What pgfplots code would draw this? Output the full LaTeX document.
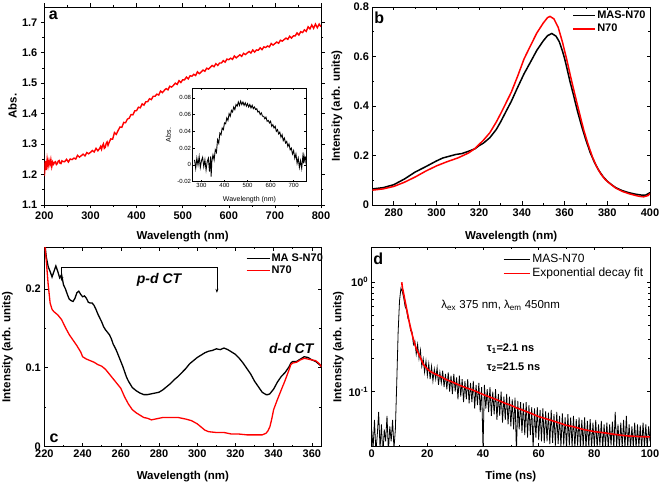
\documentclass[border=0pt]{standalone}
\usepackage{fontspec}
\setmainfont{Liberation Sans}
\usepackage{pgfplots}
\pgfplotsset{compat=1.18}
\usetikzlibrary{arrows.meta}
\definecolor{myred}{RGB}{255,0,0}
\pgfplotsset{
  panel/.style={
    scale only axis,
    axis line style={black, line width=0.8pt},
    every tick/.style={black, line width=0.6pt},
    major tick length=3.5pt,
    minor tick length=2pt,
    tick align=inside,
    tick label style={font=\fontsize{11}{12}\selectfont\bfseries},
    label style={font=\fontsize{11.5}{13}\selectfont\bfseries},
    /pgf/number format/assume math mode=true,
    legend cell align=left,
  },
}
\begin{document}
\begin{tikzpicture}
\useasboundingbox (0pt,0pt) rectangle (661pt,485pt);

% ---------------- panel a ----------------
\begin{axis}[panel,
  at={(44.4pt,280pt)}, anchor=south west, width=276.6pt, height=198pt,
  xmin=200, xmax=800, ymin=1.1, ymax=1.75,
  xtick={200,300,400,500,600,700,800}, ytick={1.1,1.2,1.3,1.4,1.5,1.6,1.7},
  minor x tick num=1, minor y tick num=1,
  tick align=outside,
  yticklabel style={/pgf/number format/fixed,/pgf/number format/precision=1,/pgf/number format/fixed zerofill},
  xlabel={Wavelength (nm)}, ylabel={Abs.},
  xlabel style={at={(axis description cs:0.5,-0.157)}, anchor=center},
  ylabel style={at={(axis description cs:-0.115,0.5)}, anchor=center},
]
\addplot[myred, line width=1.4pt] coordinates {
(200,1.195)(202,1.245)(204,1.215)(206,1.250)(208,1.228)(210,1.246)(212,1.232)(214,1.249)(216,1.226)(218,1.241)(220,1.234)(222,1.240)(224,1.242)(226,1.233)(228,1.236)(230,1.244)(232,1.246)(234,1.237)(236,1.236)(238,1.245)(240,1.243)(244,1.242)(248,1.250)(252,1.241)(256,1.251)(260,1.249)(264,1.254)(268,1.251)(272,1.263)(276,1.257)(280,1.262)(284,1.267)(288,1.261)(292,1.272)(296,1.268)(300,1.273)(304,1.279)(308,1.274)(312,1.286)(316,1.278)(320,1.286)(322,1.292)(324,1.283)(326,1.295)(328,1.301)(330,1.286)(332,1.289)(334,1.302)(336,1.307)(338,1.296)(340,1.304)(344,1.317)(348,1.316)(352,1.338)(356,1.332)(360,1.345)(364,1.356)(368,1.355)(372,1.371)(376,1.370)(380,1.382)(384,1.385)(388,1.397)(392,1.396)(396,1.409)(400,1.410)(404,1.421)(408,1.419)(412,1.432)(416,1.428)(420,1.439)(424,1.439)(428,1.449)(432,1.446)(436,1.457)(440,1.457)(444,1.464)(448,1.461)(452,1.474)(456,1.469)(460,1.476)(464,1.482)(468,1.478)(472,1.490)(476,1.487)(480,1.493)(484,1.500)(488,1.496)(492,1.508)(496,1.502)(500,1.511)(504,1.511)(508,1.520)(512,1.514)(516,1.524)(520,1.523)(524,1.529)(528,1.525)(532,1.537)(536,1.531)(540,1.537)(544,1.543)(548,1.539)(552,1.549)(556,1.546)(560,1.552)(564,1.558)(568,1.554)(572,1.564)(576,1.558)(580,1.566)(584,1.566)(588,1.574)(592,1.569)(596,1.579)(600,1.577)(604,1.582)(608,1.578)(612,1.589)(616,1.583)(620,1.588)(624,1.593)(628,1.588)(632,1.598)(636,1.594)(640,1.599)(644,1.604)(648,1.599)(652,1.609)(656,1.602)(660,1.609)(664,1.608)(668,1.616)(672,1.610)(676,1.619)(680,1.617)(684,1.622)(688,1.619)(692,1.630)(696,1.625)(700,1.630)(704,1.635)(708,1.631)(712,1.641)(716,1.638)(720,1.643)(724,1.648)(728,1.644)(732,1.654)(736,1.648)(740,1.655)(744,1.655)(748,1.665)(752,1.658)(756,1.669)(760,1.666)(764,1.675)(768,1.670)(772,1.685)(776,1.678)(780,1.691)(784,1.680)(788,1.694)(792,1.682)(796,1.694)(800,1.685)
};
\end{axis}

% ---------------- inset ----------------
\begin{axis}[scale only axis,
  at={(192.7pt,303.3pt)}, anchor=south west, width=113.6pt, height=93.4pt,
  axis background/.style={fill=white},
  axis line style={black, line width=0.5pt},
  every tick/.style={black, line width=0.4pt},
  major tick length=2pt, minor tick length=1pt, tick align=inside,
  xmin=262, xmax=755, ymin=-0.02, ymax=0.0913,
  xtick={300,400,500,600,700}, ytick={-0.02,0,0.02,0.04,0.06,0.08},
  scaled y ticks=false,
  /pgf/number format/assume math mode=true,
  yticklabel style={/pgf/number format/fixed,/pgf/number format/precision=2},
  tick label style={font=\fontsize{6}{7}\selectfont, inner sep=1.5pt},
  label style={font=\fontsize{7}{8}\selectfont},
  xlabel={Wavelength (nm)}, ylabel={Abs.},
  xlabel style={at={(axis description cs:0.5,-0.196)}, anchor=center},
  ylabel style={at={(axis description cs:-0.215,0.5)}, anchor=center},
]
\addplot[black, line width=0.9pt] coordinates {
(270,0.006)(275,-0.004)(280,0.008)(285,0.000)(290,0.010)(295,-0.003)(300,0.005)(305,0.009)(310,-0.002)(315,0.006)(320,-0.006)(325,0.004)(330,0.008)(335,-0.008)(340,0.010)(342,-0.014)(345,0.004)(350,0.012)(355,0.006)(360,0.018)(365,0.015)(370,0.030)(375,0.026)(380,0.038)(385,0.036)(390,0.044)(395,0.042)(400,0.050)(405,0.049)(410,0.056)(415,0.053)(420,0.061)(425,0.058)(430,0.065)(435,0.063)(440,0.069)(445,0.066)(450,0.072)(455,0.070)(460,0.075)(465,0.071)(470,0.076)(475,0.072)(480,0.075)(485,0.071)(490,0.074)(495,0.070)(500,0.073)(505,0.069)(510,0.072)(515,0.068)(520,0.071)(525,0.067)(530,0.069)(535,0.066)(540,0.067)(545,0.063)(550,0.064)(555,0.060)(560,0.062)(565,0.058)(570,0.058)(575,0.055)(580,0.057)(585,0.052)(590,0.053)(595,0.050)(600,0.052)(605,0.046)(610,0.048)(615,0.044)(620,0.046)(625,0.040)(630,0.042)(635,0.037)(640,0.039)(645,0.033)(650,0.036)(655,0.029)(660,0.032)(665,0.026)(670,0.028)(675,0.022)(680,0.025)(685,0.018)(690,0.020)(695,0.013)(700,0.017)(705,0.008)(710,0.013)(715,0.002)(720,0.008)(725,-0.003)(730,0.005)(735,-0.004)(740,0.010)(743,0.002)(745,0.011)(750,0.004)(752,0.010)
};
\end{axis}

% ---------------- panel b ----------------
\begin{axis}[panel,
  at={(372.4pt,280pt)}, anchor=south west, width=277.6pt, height=198pt,
  xmin=270, xmax=400, ymin=0, ymax=0.8,
  xtick={280,300,320,340,360,380,400}, ytick={0,0.2,0.4,0.6,0.8},
  minor x tick num=1, minor y tick num=1,
  yticklabel style={/pgf/number format/fixed,/pgf/number format/precision=1},
  xlabel={Wavelength (nm)}, ylabel={Intensity (arb. units)},
  xlabel style={at={(axis description cs:0.5,-0.157)}, anchor=center},
  ylabel style={at={(axis description cs:-0.1275,0.5)}, anchor=center},
  legend style={at={(axis description cs:0.72,0.99)}, anchor=north west, draw=none, fill=none,
    inner sep=0pt, outer sep=0pt, row sep=0pt,
    font=\fontsize{11}{12}\selectfont\bfseries,
    nodes={inner sep=1.5pt, text height=8pt, text depth=2.5pt}},
  legend image code/.code={\draw[#1] (0pt,0pt) -- (22pt,0pt);},
]
\addplot[black, line width=1.5pt] coordinates {
(270,0.065)(275,0.070)(280,0.082)(285,0.105)(290,0.133)(295,0.155)(300,0.178)(303,0.190)(306,0.197)(309,0.204)(312,0.208)(315,0.217)(318,0.227)(320,0.240)(322,0.250)(325,0.272)(328,0.305)(330,0.335)(333,0.385)(335,0.418)(338,0.475)(341,0.530)(344,0.577)(347,0.625)(350,0.663)(352,0.684)(354,0.693)(356,0.682)(357.5,0.660)(359,0.622)(360,0.592)(361,0.556)(362.5,0.500)(364,0.450)(366,0.380)(368,0.318)(370,0.262)(372,0.212)(374,0.172)(376,0.140)(378,0.115)(380,0.096)(382,0.082)(384,0.070)(387,0.058)(390,0.050)(393,0.044)(396,0.040)(398,0.040)(400,0.050)
};
\addlegendentry{MAS-N70}
\addplot[myred, line width=1.5pt] coordinates {
(270,0.060)(275,0.065)(280,0.075)(285,0.092)(290,0.113)(295,0.137)(300,0.158)(305,0.175)(310,0.190)(315,0.210)(318,0.228)(320,0.245)(322,0.262)(325,0.292)(328,0.335)(330,0.368)(333,0.420)(335,0.455)(338,0.520)(341,0.590)(344,0.643)(347,0.695)(350,0.735)(352,0.757)(353.2,0.762)(355,0.752)(357,0.718)(359,0.658)(361,0.588)(363,0.512)(365,0.440)(367,0.370)(369,0.302)(371,0.245)(373,0.195)(375,0.155)(377,0.125)(379,0.103)(381,0.088)(384,0.068)(387,0.055)(390,0.046)(393,0.039)(395,0.035)(397,0.033)(399,0.038)(400,0.046)
};
\addlegendentry{N70}
\end{axis}

% ---------------- panel c ----------------
\begin{axis}[panel,
  at={(44.4pt,38.3pt)}, anchor=south west, width=277pt, height=199.7pt,
  xmin=220, xmax=365, ymin=0, ymax=0.253,
  xtick={220,240,260,280,300,320,340,360}, ytick={0,0.1,0.2},
  minor x tick num=1, minor y tick num=1,
  yticklabel style={/pgf/number format/fixed,/pgf/number format/precision=1},
  xlabel={Wavelength (nm)}, ylabel={Intensity (arb. units)},
  xlabel style={at={(axis description cs:0.5,-0.147)}, anchor=center},
  ylabel style={at={(axis description cs:-0.134,0.5)}, anchor=center},
  legend style={at={(axis description cs:0.728,0.974)}, anchor=north west, draw=none, fill=none,
    inner sep=0pt, outer sep=0pt, row sep=0pt,
    font=\fontsize{11}{12}\selectfont\bfseries,
    nodes={inner sep=1.2pt, text height=8pt, text depth=1.8pt}},
  legend image code/.code={\draw[#1] (0pt,0pt) -- (23pt,0pt);},
]
\addplot[black, line width=1.3pt] coordinates {
(220,0.262)(221,0.240)(222,0.228)(223,0.222)(224,0.215)(225,0.222)(226,0.229)(227,0.222)(228,0.214)(229,0.218)(230,0.205)(231,0.200)(232,0.193)(233,0.187)(234,0.185)(235,0.184)(236,0.188)(237,0.195)(238,0.197)(239,0.193)(240,0.190)(241,0.191)(242,0.188)(243,0.183)(244,0.182)(245,0.182)(246,0.179)(247,0.174)(248,0.168)(249,0.163)(250,0.158)(251,0.152)(252,0.148)(253,0.145)(254,0.142)(255,0.137)(256,0.130)(257.5,0.123)(259,0.114)(261,0.102)(263,0.088)(264,0.083)(266,0.075)(268,0.071)(270,0.068)(272,0.066)(274,0.066)(276,0.067)(278,0.068)(280,0.069)(282,0.072)(284,0.076)(286,0.080)(288,0.085)(290,0.089)(292,0.094)(294,0.099)(296,0.105)(298,0.109)(300,0.113)(302,0.116)(304,0.119)(306,0.121)(308,0.122)(310,0.124)(312,0.123)(314,0.125)(316,0.123)(318,0.120)(320,0.117)(322,0.112)(324,0.106)(326,0.099)(328,0.092)(330,0.083)(332,0.076)(334,0.069)(336,0.066)(337,0.066)(338,0.067)(340,0.073)(342,0.082)(344,0.089)(346,0.094)(348,0.101)(349,0.106)(350,0.108)(352,0.108)(354,0.111)(356,0.114)(358,0.113)(360,0.110)(362,0.108)(364,0.104)(365,0.102)
};
\addlegendentry{MA S-N70}
\addplot[myred, line width=1.3pt] coordinates {
(220,0.262)(221,0.235)(222,0.205)(223,0.182)(224,0.174)(225,0.171)(227,0.167)(229,0.161)(231,0.151)(233,0.142)(235,0.135)(237,0.128)(239,0.120)(240,0.114)(242,0.111)(244,0.109)(246,0.107)(248,0.104)(250,0.102)(252,0.098)(254,0.092)(256,0.086)(258,0.080)(260,0.074)(262,0.063)(264,0.054)(266,0.047)(268,0.043)(270,0.040)(272,0.037)(274,0.036)(276,0.034)(278,0.035)(280,0.036)(282,0.037)(286,0.037)(290,0.037)(294,0.035)(297,0.033)(300,0.029)(302,0.025)(304,0.021)(306,0.019)(310,0.018)(314,0.018)(318,0.016)(322,0.016)(326,0.015)(330,0.015)(334,0.015)(336,0.017)(337,0.020)(338,0.025)(339,0.035)(340,0.047)(342,0.060)(344,0.072)(346,0.084)(348,0.097)(349,0.104)(350,0.106)(352,0.107)(354,0.110)(356,0.112)(358,0.111)(360,0.110)(362,0.109)(364,0.105)(365,0.101)
};
\addlegendentry{N70}
\draw[{Stealth[length=4pt,width=3pt]}-{Stealth[length=4pt,width=3pt]}, line width=0.6pt]
  (axis cs:229.1,0.2097) -- (axis cs:229.1,0.2267) -- (axis cs:310.3,0.2267) -- (axis cs:310.3,0.195);
\node[font=\fontsize{14}{16}\selectfont\bfseries\itshape] at (axis cs:280,0.211) {p-d CT};
\node[font=\fontsize{14}{16}\selectfont\bfseries\itshape] at (axis cs:349.2,0.125) {d-d CT};
\end{axis}

% ---------------- panel d ----------------
\begin{axis}[panel,
  at={(371.7pt,38.3pt)}, anchor=south west, width=278.3pt, height=199.7pt,
  xmin=0, xmax=100, ymode=log, ymin=0.0313, ymax=2.1,
  xtick={0,20,40,60,80,100}, minor x tick num=1,
  ytick={0.1,1}, yticklabels={10\textsuperscript{-1},10\textsuperscript{0}},
  xlabel={Time (ns)}, ylabel={Intensity (arb. units)},
  xlabel style={at={(axis description cs:0.5,-0.15)}, anchor=center},
  ylabel style={at={(axis description cs:-0.12,0.5)}, anchor=center},
  legend style={at={(axis description cs:0.471,0.972)}, anchor=north west, draw=none, fill=none,
    inner sep=0pt, outer sep=0pt, row sep=0pt,
    font=\fontsize{12}{13}\selectfont,
    nodes={inner sep=1.5pt, text height=8.5pt, text depth=2.5pt}},
]
\addplot[black, line width=0.8pt,
  legend image code/.code={\draw[black, line width=0.8pt] (0pt,0pt) -- (26.6pt,0pt);}] coordinates {
(0,0.045)(0.5,0.030)(1,0.055)(1.5,0.028)(2,0.040)(2.5,0.065)(3,0.030)(3.5,0.050)(4,0.025)(4.5,0.045)(5,0.035)(5.5,0.060)(6,0.028)(6.5,0.048)(7,0.035)(7.5,0.055)(8,0.030)(8.5,0.045)(9,0.120)(9.5,0.350)(10,0.680)(10.5,0.880)(11,0.820)(11.5,0.720)(12,0.600)(12.5,0.560)(13,0.470)(13.5,0.440)(14,0.360)(14.5,0.350)(15,0.270)(15.5,0.290)(16,0.220)(16.5,0.270)(17,0.200)(17.5,0.240)(18,0.170)(18.5,0.200)(19,0.150)(19.5,0.190)(20,0.140)(20.5,0.180)(21,0.130)(21.5,0.170)(22,0.125)(22.5,0.160)(23,0.130)(23.5,0.165)(24,0.115)(24.5,0.150)(25,0.120)(25.5,0.155)(26,0.110)(26.5,0.145)(27,0.105)(27.5,0.150)(28,0.100)(28.5,0.140)(29,0.095)(29.5,0.145)(30,0.100)(30.5,0.135)(31,0.085)(31.5,0.140)(32,0.090)(32.5,0.130)(33,0.080)(33.5,0.125)(34,0.085)(34.5,0.130)(35,0.078)(35.5,0.120)(36,0.080)(36.5,0.125)(37,0.070)(37.5,0.115)(38,0.075)(38.5,0.120)(39,0.065)(39.5,0.110)(40,0.030)(40.5,0.115)(41,0.070)(41.5,0.105)(42,0.065)(42.5,0.110)(43,0.060)(43.5,0.100)(44,0.062)(44.5,0.105)(45,0.055)(45.5,0.095)(46,0.060)(46.5,0.100)(47,0.052)(47.5,0.090)(48,0.055)(48.5,0.095)(49,0.050)(49.5,0.090)(50,0.048)(50.5,0.085)(51,0.045)(51.5,0.088)(52,0.028)(52.5,0.082)(53,0.045)(53.5,0.080)(54,0.042)(54.5,0.078)(55,0.040)(55.5,0.080)(56,0.038)(56.5,0.075)(57,0.040)(57.5,0.072)(58,0.030)(58.5,0.070)(59,0.038)(59.5,0.072)(60,0.036)(60.5,0.068)(61,0.035)(61.5,0.070)(62,0.034)(62.5,0.066)(63,0.035)(63.5,0.064)(64,0.033)(64.5,0.068)(65,0.034)(65.5,0.062)(66,0.032)(66.5,0.065)(67,0.033)(67.5,0.060)(68,0.031)(68.5,0.063)(69,0.032)(69.5,0.058)(70,0.030)(70.5,0.062)(71,0.032)(71.5,0.058)(72,0.031)(72.5,0.060)(73,0.030)(73.5,0.056)(74,0.032)(74.5,0.058)(75,0.030)(75.5,0.055)(76,0.031)(76.5,0.058)(77,0.030)(77.5,0.054)(78,0.031)(78.5,0.056)(79,0.030)(79.5,0.052)(80,0.031)(80.5,0.055)(81,0.030)(81.5,0.050)(82,0.032)(82.5,0.054)(83,0.030)(83.5,0.050)(84,0.031)(84.5,0.052)(85,0.030)(85.5,0.050)(86,0.032)(86.5,0.053)(87,0.030)(87.5,0.065)(88,0.031)(88.5,0.050)(89,0.030)(89.5,0.052)(90,0.031)(90.5,0.055)(91,0.030)(91.5,0.060)(92,0.031)(92.5,0.050)(93,0.030)(93.5,0.048)(94,0.031)(94.5,0.052)(95,0.030)(95.5,0.050)(96,0.031)(96.5,0.049)(97,0.030)(97.5,0.052)(98,0.031)(98.5,0.050)(99,0.030)(99.5,0.048)(100,0.035)
};
\addlegendentry{MAS-N70}
\addplot[myred, line width=1.6pt,
  legend image code/.code={\draw[myred, line width=1.6pt] (0pt,0pt) -- (26.6pt,0pt);}] coordinates {
(10.8,1.0)(11,0.90)(11.5,0.78)(12,0.67)(12.5,0.58)(13,0.50)(13.5,0.43)(14,0.38)(14.5,0.335)(15,0.30)(15.5,0.27)(16,0.248)(16.5,0.232)(17,0.218)(17.5,0.205)(18,0.19)(18.5,0.178)(19,0.172)(19.5,0.166)(20,0.161)(21,0.153)(22,0.148)(23,0.144)(24,0.14)(25,0.136)(26,0.132)(27,0.128)(28,0.125)(29,0.122)(30,0.119)(32,0.113)(34,0.108)(36,0.104)(38,0.099)(40,0.094)(42,0.09)(44,0.086)(46,0.082)(48,0.078)(50,0.075)(52,0.071)(54,0.068)(56,0.065)(58,0.062)(60,0.059)(62,0.057)(64,0.055)(66,0.053)(68,0.051)(70,0.049)(72,0.048)(74,0.0465)(76,0.045)(78,0.044)(80,0.043)(82,0.0424)(84,0.0418)(86,0.041)(88,0.0404)(90,0.0398)(92,0.0393)(94,0.039)(96,0.0388)(98,0.0386)(100,0.0385)
};
\addlegendentry{Exponential decay fit}
\node[anchor=west, inner sep=0pt, font=\fontsize{11.5}{13}\selectfont] at (axis cs:25,0.61) {λ\textsubscript{ex} 375 nm, λ\textsubscript{em} 450nm};
\node[anchor=west, inner sep=0pt, font=\fontsize{11}{13}\selectfont\bfseries] at (axis cs:41.3,0.248) {τ\textsubscript{1}=2.1 ns};
\node[anchor=west, inner sep=0pt, font=\fontsize{11}{13}\selectfont\bfseries] at (axis cs:41.3,0.1675) {τ\textsubscript{2}=21.5 ns};
\end{axis}

% panel letters
\node[font=\fontsize{16}{18}\selectfont\bfseries] at (53.3pt,469.7pt) {a};
\node[font=\fontsize{16}{18}\selectfont\bfseries] at (379.3pt,467.3pt) {b};
\node[font=\fontsize{16}{18}\selectfont\bfseries] at (54pt,46.7pt) {c};
\node[font=\fontsize{16}{18}\selectfont\bfseries] at (378.3pt,226pt) {d};
\end{tikzpicture}
\end{document}
